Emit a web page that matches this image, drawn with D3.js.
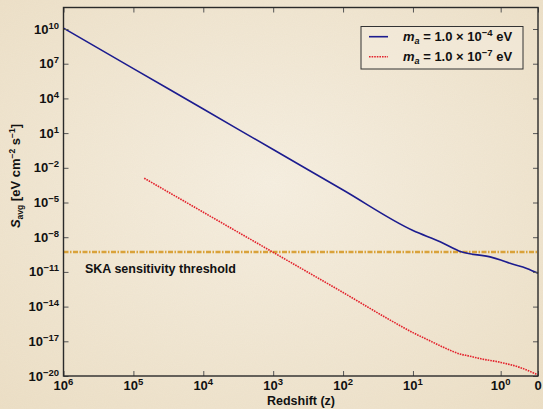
<!DOCTYPE html>
<html><head><meta charset="utf-8">
<script src="https://cdn.jsdelivr.net/npm/d3@7"></script>
<style>
html,body{margin:0;padding:0;background:#f2e9d7;}
svg{display:block;}
text{font-family:"Liberation Sans",Arial,Helvetica,sans-serif;font-weight:bold;fill:#111;}
</style></head>
<body>
<svg id="chart" width="543" height="409"></svg>
<script>
// ---- data ----
const xTickZ = [1e6, 1e5, 1e4, 1e3, 1e2, 10, 1, 0];
const xTickLabels = [["10","6"],["10","5"],["10","4"],["10","3"],["10","2"],["10","1"],["10","0"],["0",""]];
const yTickValues = [1e10, 1e7, 1e4, 1e1, 1e-2, 1e-5, 1e-8, 1e-11, 1e-14, 1e-17, 1e-20];
const yTickLabels = [["10","10"],["10","7"],["10","4"],["10","1"],["10","\u22122"],["10","\u22125"],["10","\u22128"],["10","\u221211"],["10","\u221214"],["10","\u221217"],["10","\u221220"]];

const blueZ = [1e6, 1e5, 1e4, 1e3, 1e2, 10, 4.9, 2.76, 1.32, 1, 0.75, 0.30, 0];
const blueS = [1.2e10, 3.8e6, 1.2e3, 0.38, 1.2e-4, 3.8e-8, 4.1e-9, 5.2e-10, 2.0e-10, 1.07e-10, 5.5e-11, 2.0e-11, 7.6e-12];

const redZ = [7.0e4, 1e4, 1e3, 1e2, 20, 10, 6.7, 4.3, 2.9, 2.3, 1.72, 1, 0.48, 0];
const redS = [1.26e-3, 1.45e-6, 4.9e-10, 1.66e-13, 5.6e-16, 5.6e-17, 1.3e-17, 2.6e-18, 7.9e-19, 5.4e-19, 3.2e-19, 1.5e-19, 5.4e-20, 1.23e-20];

const skaThreshold = 5.2e-10;
const legendLabels = [{exp:"\u22124"}, {exp:"\u22127"}];

// ---- layout ----
const W = 543, H = 409;
const L = 63.5, R = 538, T = 7.5, B = 376;
const svg = d3.select("#chart");

// background parchment
const defs = svg.append("defs");
const rg = defs.append("radialGradient").attr("id","bg").attr("cx","50%").attr("cy","45%").attr("r","75%");
rg.append("stop").attr("offset","0%").attr("stop-color","#f6efe1");
rg.append("stop").attr("offset","100%").attr("stop-color","#ecdfc6");
const flt = defs.append("filter").attr("id","noise").attr("x","0").attr("y","0").attr("width","100%").attr("height","100%");
flt.append("feTurbulence").attr("type","fractalNoise").attr("baseFrequency","0.9").attr("numOctaves","2").attr("seed","3");
flt.append("feColorMatrix").attr("values","0 0 0 0 0.55  0 0 0 0 0.45  0 0 0 0 0.3  0 0 0 0.07 0");
svg.append("rect").attr("width",W).attr("height",H).attr("fill","url(#bg)");
svg.append("rect").attr("width",W).attr("height",H).attr("filter","url(#noise)");

// x transform: equal decades down to 10, stretched 10->1 segment, linear 1->0 segment
function zu(z){
  if (z >= 10) return 6 - Math.log10(z);
  if (z >= 1) return 5 + 1.255 * (1 - Math.log10(z));
  return 6.255 + 0.534 * (1 - z);
}
const x = d3.scaleLinear().domain([0, zu(0)]).range([L, R]);
const y = d3.scaleLog().domain([1e-20, Math.pow(10, 11.86)]).range([B, T]);
const px = z => x(zu(z));

// threshold line
svg.append("line")
  .attr("x1", L).attr("x2", R).attr("y1", y(skaThreshold)).attr("y2", y(skaThreshold))
  .attr("stroke","#d9a23a").attr("stroke-width",2.4).attr("stroke-dasharray","5,1.5,1.5,1.5");

const line = d3.line().x(d => px(d[0])).y(d => y(d[1])).curve(d3.curveMonotoneX);

svg.append("path").datum(blueZ.map((z,i)=>[z, blueS[i]]))
  .attr("d", line).attr("fill","none").attr("stroke","#1c1c8f").attr("stroke-width",1.6);
svg.append("path").datum(redZ.map((z,i)=>[z, redS[i]]))
  .attr("d", line).attr("fill","none").attr("stroke","#e3222c").attr("stroke-width",1.6)
  .attr("stroke-dasharray","1.6,1");

// ticks (inward) via axes
const tickLen = 5;
const xAxisB = d3.axisBottom(x).tickValues(xTickZ.map(zu)).tickSize(-tickLen).tickFormat("");
const xAxisT = d3.axisTop(x).tickValues(xTickZ.map(zu)).tickSize(-tickLen).tickFormat("");
const yAxisL = d3.axisLeft(y).tickValues(yTickValues).tickSize(-tickLen).tickFormat("");
const yAxisR = d3.axisRight(y).tickValues(yTickValues).tickSize(-tickLen).tickFormat("");
function styleAxis(g){ g.select(".domain").remove(); g.selectAll(".tick line").attr("stroke","#555").attr("stroke-width",1); }
svg.append("g").attr("transform",`translate(0,${B})`).call(xAxisB).call(styleAxis);
svg.append("g").attr("transform",`translate(0,${T})`).call(xAxisT).call(styleAxis);
svg.append("g").attr("transform",`translate(${L},0)`).call(yAxisL).call(styleAxis);
svg.append("g").attr("transform",`translate(${R},0)`).call(yAxisR).call(styleAxis);

// frame
svg.append("rect").attr("x",L).attr("y",T).attr("width",R-L).attr("height",B-T)
  .attr("fill","none").attr("stroke","#2a2a2a").attr("stroke-width",1.4);

// tick labels
const fs = 13, sfs = 9.5;
const xl = svg.append("g").selectAll("text").data(xTickZ).join("text")
  .attr("x", d => px(d)).attr("y", 390).attr("text-anchor","middle").style("font-size", fs+"px");
xl.each(function(d,i){
  const t = d3.select(this);
  t.append("tspan").text(xTickLabels[i][0]);
  if (xTickLabels[i][1]) t.append("tspan").attr("dy",-5).style("font-size",sfs+"px").text(xTickLabels[i][1]);
});
const yl = svg.append("g").selectAll("text").data(yTickValues).join("text")
  .attr("x", 59).attr("y", d => y(d) + 4.5).attr("text-anchor","end").style("font-size", fs+"px");
yl.each(function(d,i){
  const t = d3.select(this);
  t.append("tspan").text(yTickLabels[i][0]);
  t.append("tspan").attr("dy",-5).style("font-size",sfs+"px").text(yTickLabels[i][1]);
});

// axis titles
svg.append("text").attr("x",301).attr("y",405).attr("text-anchor","middle").style("font-size","12.5px").text("Redshift (z)");
const yt = svg.append("text").attr("transform","translate(20,176) rotate(-90)").attr("text-anchor","middle").style("font-size","13px");
yt.append("tspan").style("font-style","italic").text("S");
yt.append("tspan").attr("dy",3).style("font-size","8.5px").text("avg");
yt.append("tspan").attr("dy",-3).text(" [eV cm");
yt.append("tspan").attr("dy",-5).style("font-size","8.5px").text("\u22122");
yt.append("tspan").attr("dy",5).text(" s");
yt.append("tspan").attr("dy",-5).style("font-size","8.5px").text("\u22121");
yt.append("tspan").attr("dy",5).text("]");

// SKA label
svg.append("text").attr("x",85).attr("y",273).style("font-size","12.5px").text("SKA sensitivity threshold");

// legend
const lg = svg.append("g");
lg.append("rect").attr("x",361).attr("y",26.5).attr("width",162).attr("height",42.5)
  .attr("fill","#f3ebdc").attr("fill-opacity",0.6).attr("stroke","#333").attr("stroke-width",1);
const legStyles = [{c:"#1c1c8f", dash:null}, {c:"#e3222c", dash:"1.6,1"}];
legendLabels.forEach((lab,i)=>{
  const yy = 36.7 + i*20;
  lg.append("line").attr("x1",369).attr("x2",388).attr("y1",yy).attr("y2",yy)
    .attr("stroke",legStyles[i].c).attr("stroke-width",1.6).attr("stroke-dasharray",legStyles[i].dash);
  const t = lg.append("text").attr("x",403).attr("y",yy+4.5).style("font-size","13px");
  t.append("tspan").style("font-style","italic").text("m");
  t.append("tspan").attr("dy",3).style("font-style","italic").style("font-size","9px").text("a");
  t.append("tspan").attr("dy",-3).text(" = 1.0 \u00d7 10");
  t.append("tspan").attr("dy",-5).style("font-size","9.5px").text(lab.exp);
  t.append("tspan").attr("dy",5).text(" eV");
});
</script>
</body></html>
